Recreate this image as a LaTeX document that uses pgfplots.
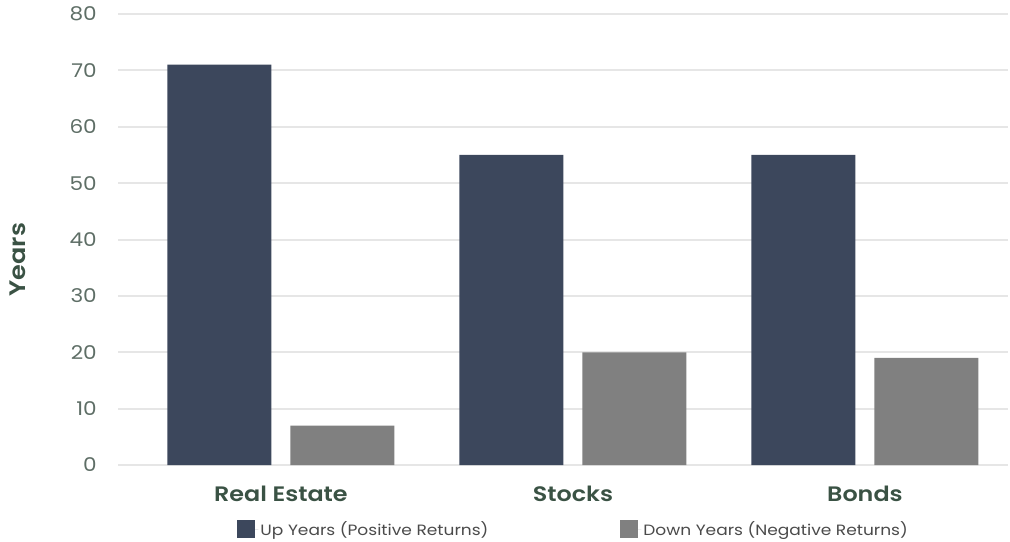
\documentclass[border=0pt]{standalone}
\usepackage{fontspec}
\setmainfont{Poppins}[FakeStretch=1.14, BoldFont={Poppins SemiBold}, BoldFeatures={FakeStretch=1.14}]
\usepackage{pgfplots}
\pgfplotsset{compat=1.18}
\definecolor{upcol}{HTML}{3C475C}
\definecolor{downcol}{HTML}{808080}
\definecolor{tickcol}{HTML}{5E6E66}
\definecolor{labcol}{HTML}{3A5244}
\definecolor{legcol}{HTML}{4A4A4A}
\definecolor{gridcol}{HTML}{E6E6E6}
\begin{document}
\begin{tikzpicture}
\useasboundingbox (-118bp,-77bp) rectangle (892bp,465bp);
\begin{axis}[
  at={(0,0)}, anchor=south west,
  scale only axis, width=890bp, height=451bp,
  ybar=19bp, bar width=104bp,
  xmin=-0.558, xmax=2.49, ymin=0, ymax=80,
  ytick={0,10,...,80},
  xtick={0,1,2}, xticklabels={Real Estate,Stocks,Bonds},
  axis line style={draw=none}, tick style={draw=none},
  ymajorgrids, grid style={gridcol, line width=2bp},
  /pgf/number format/assume math mode=true,
  yticklabel style={font=\fontsize{19}{21}\selectfont, text=tickcol, anchor=east, inner sep=0pt, xshift=-21bp},
  xticklabel style={font=\fontsize{21}{24}\selectfont\bfseries, text=labcol, anchor=north, inner sep=0pt, yshift=-17bp},
  ylabel={Years},
  ylabel style={at={(axis description cs:-0.1124,0.455)}, anchor=center, font=\fontsize{22.5}{26}\selectfont\bfseries, text=labcol},
  legend columns=2,
  legend style={at={(axis description cs:0.512,-0.142)}, anchor=center, draw=none, fill=none,
    font=\fontsize{15}{18}\selectfont, text=legcol,
    /tikz/every even column/.append style={column sep=130bp}},
  legend cell align=left,
  legend image code/.code={\fill[#1] (0bp,-9bp) rectangle (18bp,9bp);\path (0bp,0bp) -- (21bp,0bp);},
]
\addplot[fill=upcol, draw=none] coordinates {(0,71) (1,55) (2,55)};
\addplot[fill=downcol, draw=none] coordinates {(0,7) (1,20) (2,19)};
\legend{Up Years (Positive Returns), Down Years (Negative Returns)}
\end{axis}
\end{tikzpicture}
\end{document}
